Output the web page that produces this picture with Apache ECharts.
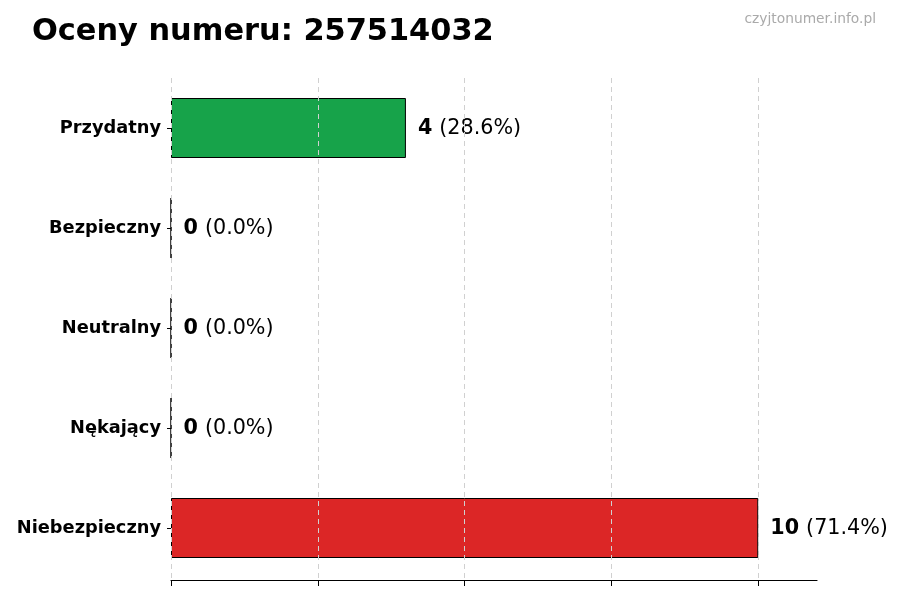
<!DOCTYPE html>
<html>
<head>
<meta charset="utf-8">
<script src="https://cdn.jsdelivr.net/npm/echarts@6/dist/echarts.min.js"></script>
<style>
  html, body { margin: 0; padding: 0; background: #fff; }
  #chart { width: 900px; height: 600px; }
</style>
</head>
<body>
<div id="chart"></div>
<script>
// data
const categories = ["Przydatny", "Bezpieczny", "Neutralny", "Nękający", "Niebezpieczny"];
const values = [4, 0, 0, 0, 10];
const barColors = ["#17a34a", "#17a34a", "#9ca3af", "#f97316", "#dc2626"];
const gridTicks = [0, 2.5, 5, 7.5, 10];

const total = values.reduce((a, b) => a + b, 0);
const font = "DejaVu Sans";

const chart = echarts.init(document.getElementById("chart"), null, { renderer: "canvas" });

chart.setOption({
  animation: false,
  textStyle: { fontFamily: font },
  title: [
    {
      text: "Oceny numeru: 257514032",
      left: 27,
      top: 12,
      textStyle: { fontFamily: font, fontSize: 30.4, fontWeight: "bold", color: "#000" },
    },
    {
      text: "czyjtonumer.info.pl",
      right: 19,
      top: 7,
      textStyle: { fontFamily: font, fontSize: 13.8, fontWeight: "normal", color: "#aaaaaa" },
    },
  ],
  grid: { left: 171, right: 83, top: 78, height: 500 },
  xAxis: {
    type: "value",
    min: 0,
    max: 11,
    interval: 2.5,
    offset: 2,
    axisLine: { show: true, lineStyle: { color: "#000", width: 1.2 } },
    axisTick: { show: true, length: 6, customValues: gridTicks, lineStyle: { color: "#000" } },
    axisLabel: { show: false },
    splitLine: { show: false },
  },
  yAxis: {
    type: "category",
    data: categories,
    inverse: true,
    axisLine: { show: false },
    axisTick: { show: true, length: 4, alignWithLabel: true, lineStyle: { color: "#000" } },
    axisLabel: { fontFamily: font, fontSize: 17.8, fontWeight: "bold", color: "#000", margin: 10 },
  },
  series: [
    {
      type: "bar",
      data: values.map((v, i) => ({ value: v, itemStyle: { color: barColors[i] } })),
      barWidth: 60,
      itemStyle: { borderColor: "#000", borderWidth: 1 },
      label: {
        show: true,
        position: "right",
        distance: 12,
        offset: [0, 1],
        formatter: (p) => "{b|" + p.value + "}{s| }{n|(" + (p.value / total * 100).toFixed(1) + "%)}",
        rich: {
          b: { fontFamily: font, fontSize: 20.7, fontWeight: "bold", color: "#000" },
          s: { fontFamily: font, fontSize: 20.7, width: 7 },
          n: { fontFamily: font, fontSize: 20.7, color: "#000" },
        },
      },
      markLine: {
        silent: true,
        symbol: "none",
        label: { show: false },
        lineStyle: { color: "#d0d0d0", type: [5, 4], width: 1 },
        data: gridTicks.map((t) => ({ xAxis: t })),
      },
    },
  ],
});
</script>
</body>
</html>
